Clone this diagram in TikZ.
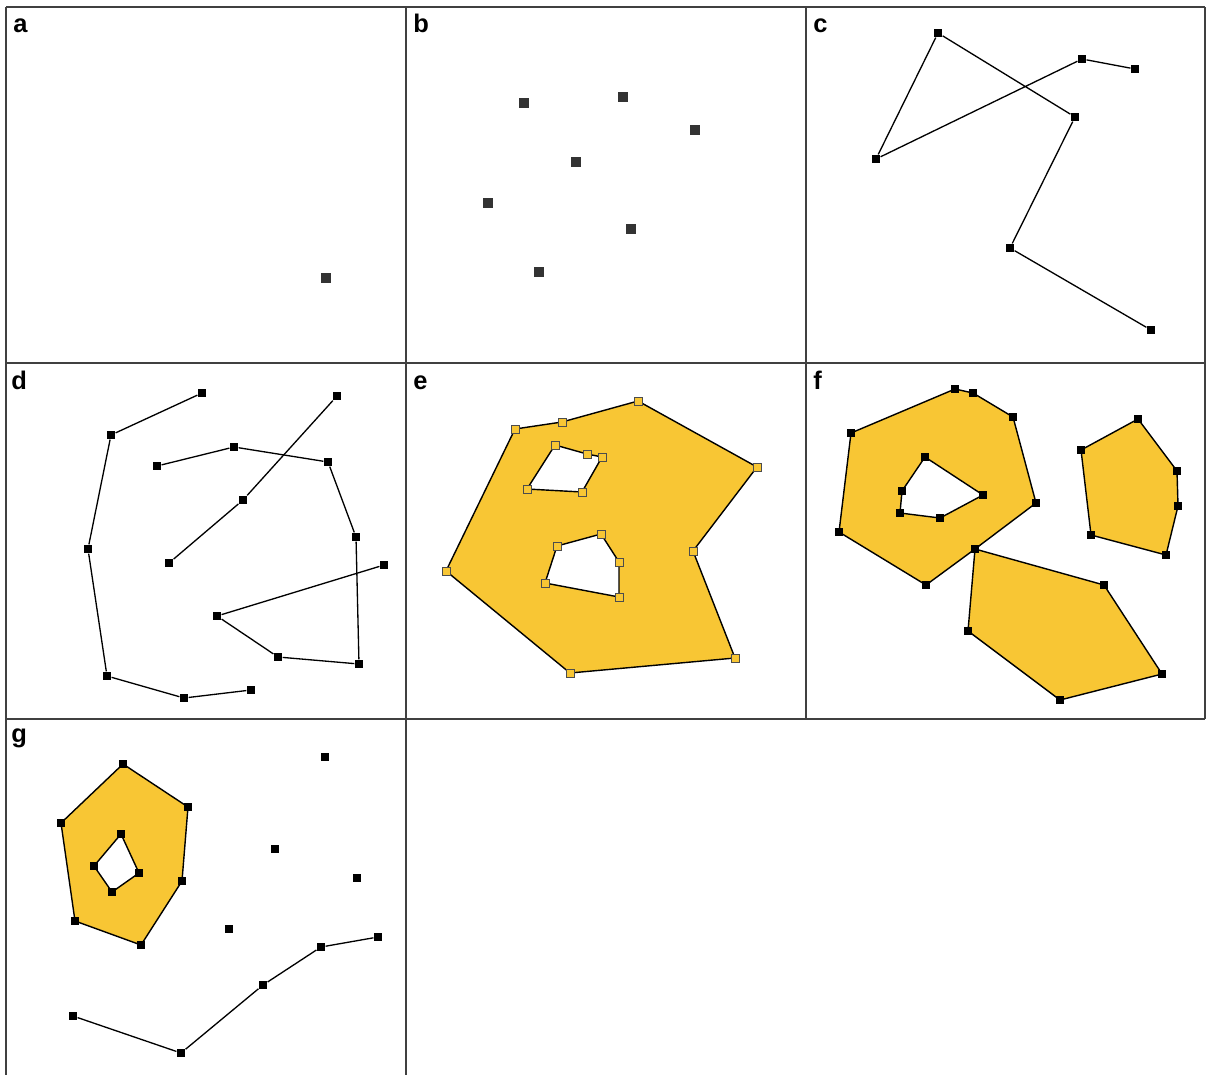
\documentclass[tikz,border=0pt]{standalone}
\usepackage{fontspec}
\setmainfont{Liberation Sans}
\usepackage{xcolor}
\usepackage{tikz}
\definecolor{gold}{RGB}{248,198,52}
\tikzset{
  vtx/.style={rectangle, fill=black, minimum size=0.17cm, inner sep=0pt},
  bigvtx/.style={rectangle, fill=black!80, minimum size=0.19cm, inner sep=0pt},
  yvtx/.style={rectangle, fill=gold, draw=black!70, line width=0.3pt, minimum size=0.16cm, inner sep=0pt},
  seg/.style={line width=0.75pt, line join=round},
  area/.style={fill=gold, draw=black, line width=0.8pt, even odd rule, line join=round},
  panelframe/.style={line width=1.1pt, draw=black!75},
  lbl/.style={anchor=base west, inner sep=0pt, font=\fontsize{14.5}{16}\selectfont\bfseries}
}

\begin{document}
\begin{tikzpicture}[x=0.02cm, y=-0.02cm]
        \useasboundingbox (0,0) rectangle (1206,1075);

        % panel grid
        \draw [panelframe] (6,7) -- (1205,7);
        \draw [panelframe] (6,363) -- (1205,363);
        \draw [panelframe] (6,719) -- (1205,719);
        \draw [panelframe] (6,7) -- (6,1075);
        \draw [panelframe] (406,7) -- (406,1075);
        \draw [panelframe] (806,7) -- (806,719);
        \draw [panelframe] (1205,7) -- (1205,719);

        \node (LabelA) [lbl] at (13,32) {a};
        \node (LabelB) [lbl] at (413,32) {b};
        \node (LabelC) [lbl] at (813,32) {c};
        \node (LabelD) [lbl] at (11,389) {d};
        \node (LabelE) [lbl] at (413,389) {e};
        \node (LabelF) [lbl] at (813,389) {f};
        \node (LabelG) [lbl] at (11,742) {g};

        % a: one point
        \node (a1) [bigvtx] at (326,278) {};

        % b: points
        \node (b1) [bigvtx] at (524,103) {};
        \node (b2) [bigvtx] at (623,97) {};
        \node (b3) [bigvtx] at (695,130) {};
        \node (b4) [bigvtx] at (576,162) {};
        \node (b5) [bigvtx] at (488,203) {};
        \node (b6) [bigvtx] at (631,229) {};
        \node (b7) [bigvtx] at (539,272) {};

        % c: one line string
        \node (c1) [vtx] at (1135,69) {};
        \node (c2) [vtx] at (1082,59) {};
        \node (c3) [vtx] at (876,159) {};
        \node (c4) [vtx] at (938,33) {};
        \node (c5) [vtx] at (1075,117) {};
        \node (c6) [vtx] at (1010,248) {};
        \node (c7) [vtx] at (1151,330) {};
        \draw [seg] (c1) -- (c2) -- (c3) -- (c4) -- (c5) -- (c6) -- (c7);

        % d: three line strings
        \node (d1) [vtx] at (202,393) {};
        \node (d2) [vtx] at (111,435) {};
        \node (d3) [vtx] at (88,549) {};
        \node (d4) [vtx] at (107,676) {};
        \node (d5) [vtx] at (184,698) {};
        \node (d6) [vtx] at (251,690) {};
        \draw [seg] (d1) -- (d2) -- (d3) -- (d4) -- (d5) -- (d6);
        \node (d7) [vtx] at (157,466) {};
        \node (d8) [vtx] at (234,447) {};
        \node (d9) [vtx] at (328,462) {};
        \node (d10) [vtx] at (356,537) {};
        \node (d11) [vtx] at (359,664) {};
        \node (d12) [vtx] at (278,657) {};
        \node (d13) [vtx] at (217,616) {};
        \node (d14) [vtx] at (384,565) {};
        \draw [seg] (d7) -- (d8) -- (d9) -- (d10) -- (d11) -- (d12) -- (d13) -- (d14);
        \node (d15) [vtx] at (337,396) {};
        \node (d16) [vtx] at (243,500) {};
        \node (d17) [vtx] at (169,563) {};
        \draw [seg] (d15) -- (d16) -- (d17);

        % e: polygon with two holes
        \coordinate (e1) at (515,429);
        \coordinate (e2) at (562,422);
        \coordinate (e3) at (638,401);
        \coordinate (e4) at (757,467);
        \coordinate (e5) at (693,551);
        \coordinate (e6) at (735,658);
        \coordinate (e7) at (570,673);
        \coordinate (e8) at (446,571);
        \coordinate (eh1) at (555,445);
        \coordinate (eh2) at (587,454);
        \coordinate (eh3) at (602,457);
        \coordinate (eh4) at (582,492);
        \coordinate (eh5) at (527,489);
        \coordinate (eh6) at (557,546);
        \coordinate (eh7) at (601,534);
        \coordinate (eh8) at (619,562);
        \coordinate (eh9) at (619,597);
        \coordinate (eh10) at (545,583);
        \draw [area] (e1) -- (e2) -- (e3) -- (e4) -- (e5) -- (e6) -- (e7) -- (e8) -- cycle
          (eh1) -- (eh2) -- (eh3) -- (eh4) -- (eh5) -- cycle
          (eh6) -- (eh7) -- (eh8) -- (eh9) -- (eh10) -- cycle;
        \foreach \v in {e1,e2,e3,e4,e5,e6,e7,e8,eh1,eh2,eh3,eh4,eh5,eh6,eh7,eh8,eh9,eh10}
          \node [yvtx] at (\v) {};

        % f: three polygons, one with a hole
        \coordinate (f1) at (851,433);
        \coordinate (f2) at (955,389);
        \coordinate (f3) at (973,393);
        \coordinate (f4) at (1013,417);
        \coordinate (f5) at (1036,503);
        \coordinate (f6) at (975,549);
        \coordinate (f7) at (926,585);
        \coordinate (f8) at (839,532);
        \coordinate (fh1) at (925,457);
        \coordinate (fh2) at (983,495);
        \coordinate (fh3) at (940,518);
        \coordinate (fh4) at (900,513);
        \coordinate (fh5) at (902,491);
        \coordinate (f9) at (1138,419);
        \coordinate (f10) at (1177,471);
        \coordinate (f11) at (1178,506);
        \coordinate (f12) at (1166,555);
        \coordinate (f13) at (1091,535);
        \coordinate (f14) at (1081,450);
        \coordinate (f15) at (1104,585);
        \coordinate (f16) at (1162,674);
        \coordinate (f17) at (1060,700);
        \coordinate (f18) at (968,631);
        \draw [area] (f1) -- (f2) -- (f3) -- (f4) -- (f5) -- (f6) -- (f7) -- (f8) -- cycle
          (fh1) -- (fh2) -- (fh3) -- (fh4) -- (fh5) -- cycle;
        \draw [area] (f9) -- (f10) -- (f11) -- (f12) -- (f13) -- (f14) -- cycle;
        \draw [area] (f6) -- (f15) -- (f16) -- (f17) -- (f18) -- cycle;
        \foreach \v in {f1,f2,f3,f4,f5,f6,f7,f8,fh1,fh2,fh3,fh4,fh5,f9,f10,f11,f12,f13,f14,f15,f16,f17,f18}
          \node [vtx] at (\v) {};

        % g: mixed layer
        \coordinate (g1) at (123,764);
        \coordinate (g2) at (188,807);
        \coordinate (g3) at (182,881);
        \coordinate (g4) at (141,945);
        \coordinate (g5) at (75,921);
        \coordinate (g6) at (61,823);
        \coordinate (gh1) at (121,834);
        \coordinate (gh2) at (139,873);
        \coordinate (gh3) at (112,892);
        \coordinate (gh4) at (94,866);
        \draw [area] (g1) -- (g2) -- (g3) -- (g4) -- (g5) -- (g6) -- cycle
          (gh1) -- (gh2) -- (gh3) -- (gh4) -- cycle;
        \foreach \v in {g1,g2,g3,g4,g5,g6,gh1,gh2,gh3,gh4}
          \node [vtx] at (\v) {};
        \node (g7) [vtx] at (325,757) {};
        \node (g8) [vtx] at (275,849) {};
        \node (g9) [vtx] at (357,878) {};
        \node (g10) [vtx] at (229,929) {};
        \node (g11) [vtx] at (73,1016) {};
        \node (g12) [vtx] at (181,1053) {};
        \node (g13) [vtx] at (263,985) {};
        \node (g14) [vtx] at (321,947) {};
        \node (g15) [vtx] at (378,937) {};
        \draw [seg] (g11) -- (g12) -- (g13) -- (g14) -- (g15);
      \end{tikzpicture}
\end{document}
